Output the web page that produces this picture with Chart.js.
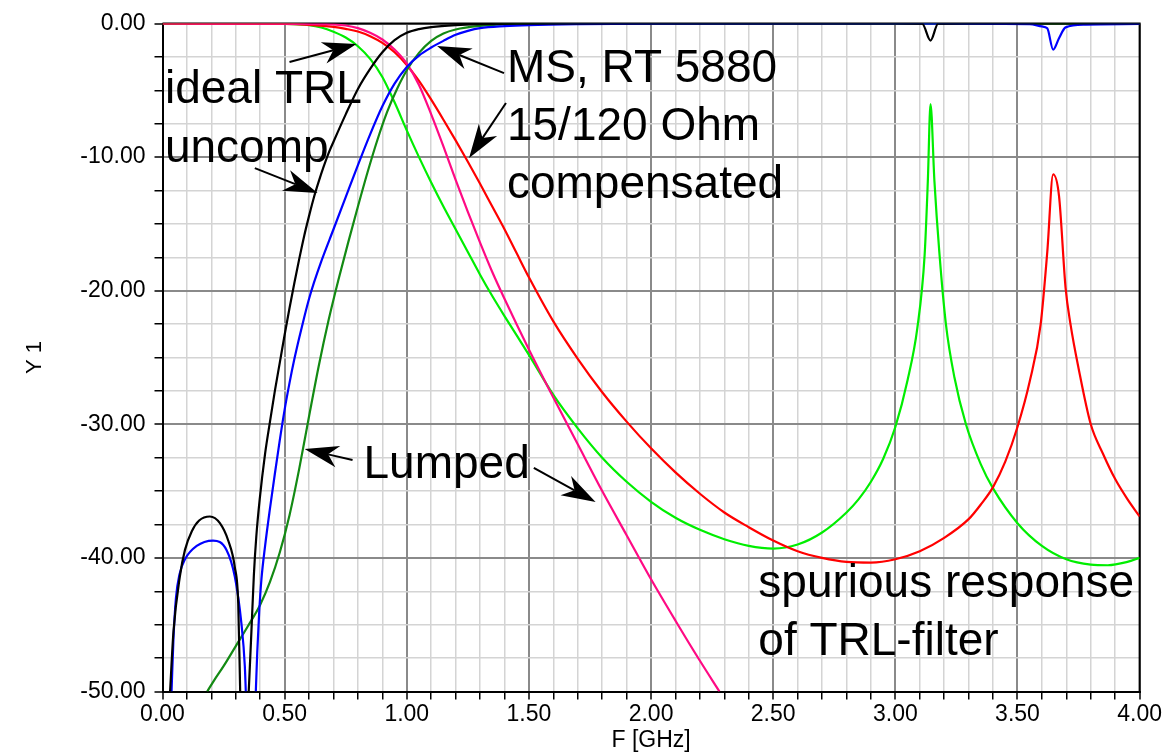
<!DOCTYPE html>
<html>
<head>
<meta charset="utf-8">
<script src="https://cdn.jsdelivr.net/npm/chart.js@4.4.1/dist/chart.umd.min.js"></script>
<style>
  html, body { margin: 0; padding: 0; background: #fff; }
  #wrap { width: 1163px; height: 754px; }
</style>
</head>
<body>
<div id="wrap"><canvas id="chart" width="1163" height="754"></canvas></div>
<script>
// tick labels
const xTickLabels = ['0.00', '0.50', '1.00', '1.50', '2.00', '2.50', '3.00', '3.50', '4.00'];
const yTickLabels = ['0.00', '-10.00', '-20.00', '-30.00', '-40.00', '-50.00'];

// ideal TRL, uncompensated
const trlS11F = [0.031, 0.045, 0.071, 0.092, 0.12, 0.15, 0.194, 0.235, 0.269, 0.296, 0.31, 0.318, 0.335, 0.353, 0.364, 0.374, 0.384, 0.398, 0.42, 0.44, 0.46, 0.48, 0.5, 0.52, 0.54, 0.56, 0.58, 0.6, 0.62, 0.64, 0.66, 0.68, 0.7, 0.75, 0.8, 0.85, 0.9, 0.95, 1.0, 1.05, 1.1, 1.2, 1.3, 1.45, 2.0, 3.0, 3.11, 3.144, 3.175, 3.3, 4.0];
const trlS11 = [-50, -45.5, -41.4, -39.4, -38.0, -37.2, -36.9, -37.4, -38.7, -40.7, -43.4, -50, null, -50, -45.5, -41.3, -38.4, -35.6, -32.2, -29.8, -27.5, -25.4, -23.3, -21.3, -19.4, -17.6, -15.9, -14.4, -13.0, -11.8, -10.7, -9.7, -8.85, -6.8, -4.9, -3.4, -2.15, -1.25, -0.7, -0.42, -0.27, -0.12, -0.05, -0.01, 0, 0, -0.02, -1.28, -0.02, 0, 0];
const trlS21F = [0, 0.3, 0.5, 0.6, 0.65, 0.7, 0.75, 0.8, 0.85, 0.9, 0.95, 1.0, 1.05, 1.1, 1.15, 1.2, 1.25, 1.3, 1.35, 1.4, 1.5, 1.6, 1.7, 1.8, 1.9, 2.0, 2.1, 2.2, 2.3, 2.4, 2.5, 2.6, 2.7, 2.8, 2.85, 2.9, 2.95, 3.0, 3.05, 3.09, 3.12, 3.133, 3.144, 3.16, 3.18, 3.207, 3.242, 3.289, 3.35, 3.4, 3.5, 3.6, 3.7, 3.8, 3.87, 3.95, 4.0];
const trlS21 = [0, -0.01, -0.03, -0.12, -0.3, -0.62, -1.05, -1.7, -2.65, -4.0, -5.9, -8.0, -10.0, -11.9, -13.7, -15.4, -17.1, -18.8, -20.4, -21.9, -24.8, -27.8, -30.3, -32.5, -34.3, -35.8, -37.0, -37.9, -38.6, -39.1, -39.3, -39.0, -38.1, -36.6, -35.6, -34.3, -32.6, -30.2, -26.7, -22.8, -17.3, -11.8, -6.04, -11.8, -17.1, -22.5, -26.5, -30.0, -33.0, -34.8, -37.4, -39.1, -40.1, -40.5, -40.55, -40.3, -40.0];

// microstrip RT 5880, 15/120 Ohm, compensated
const msS11F = [0.037, 0.045, 0.055, 0.07, 0.092, 0.14, 0.207, 0.262, 0.296, 0.323, 0.337, 0.341, 0.36, 0.382, 0.388, 0.396, 0.405, 0.42, 0.44, 0.46, 0.48, 0.5, 0.52, 0.54, 0.56, 0.58, 0.6, 0.62, 0.65, 0.7, 0.75, 0.8, 0.85, 0.9, 0.95, 1.0, 1.05, 1.1, 1.15, 1.2, 1.25, 1.3, 1.4, 1.5, 1.7, 2.0, 3.0, 3.55, 3.6, 3.622, 3.646, 3.67, 3.697, 3.78, 4.0];
const msS11 = [-50, -46, -43, -41.2, -40.1, -39.1, -38.7, -39.4, -41.4, -44.9, -48.1, -50, null, -50, -47, -44.0, -41.6, -39.1, -36.3, -33.7, -31.2, -28.9, -26.9, -25.1, -23.5, -22.0, -20.6, -19.4, -17.8, -15.4, -13.0, -10.6, -8.3, -6.2, -4.5, -3.25, -2.4, -1.8, -1.3, -0.85, -0.55, -0.35, -0.2, -0.12, -0.05, -0.01, 0, -0.05, -0.22, -0.36, -1.95, -1.1, -0.29, -0.08, -0.03];
const msS21F = [0, 0.5, 0.6, 0.7, 0.75, 0.8, 0.85, 0.9, 0.95, 1.0, 1.05, 1.1, 1.15, 1.2, 1.25, 1.3, 1.35, 1.4, 1.45, 1.5, 1.6, 1.7, 1.8, 1.9, 2.0, 2.1, 2.2, 2.3, 2.4, 2.5, 2.6, 2.7, 2.8, 2.9, 3.0, 3.1, 3.2, 3.3, 3.35, 3.4, 3.45, 3.5, 3.55, 3.595, 3.622, 3.646, 3.67, 3.697, 3.717, 3.75, 3.8, 3.85, 3.9, 3.95, 4.0];
const msS21 = [0, -0.03, -0.1, -0.25, -0.4, -0.6, -0.95, -1.45, -2.15, -3.1, -4.3, -5.7, -7.2, -8.75, -10.35, -12.0, -13.7, -15.4, -17.2, -19.0, -22.3, -25.1, -27.6, -29.8, -31.8, -33.6, -35.2, -36.6, -37.7, -38.7, -39.5, -40.0, -40.3, -40.35, -40.1, -39.5, -38.5, -37.1, -36.0, -34.7, -32.8, -30.2, -26.8, -22.5, -17.1, -11.3, -12.9, -19.8, -22.5, -25.8, -30.0, -32.2, -34.1, -35.6, -36.9];

// lumped element filter
const lumpS11F = [0.183, 0.21, 0.25, 0.3, 0.35, 0.4, 0.44, 0.48, 0.52, 0.56, 0.6, 0.64, 0.68, 0.72, 0.76, 0.8, 0.84, 0.88, 0.92, 0.96, 1.0, 1.05, 1.1, 1.15, 1.2, 1.3, 1.4, 1.6, 2.0, 4.0];
const lumpS11 = [-50, -49.2, -48.1, -46.6, -45.1, -43.5, -41.8, -39.6, -36.8, -33.3, -29.4, -25.6, -22.2, -19.2, -16.4, -13.7, -11.1, -8.7, -6.6, -4.9, -3.5, -2.2, -1.3, -0.75, -0.45, -0.18, -0.07, -0.02, 0, 0];
const lumpS21F = [0, 0.5, 0.7, 0.75, 0.8, 0.85, 0.9, 0.95, 1.0, 1.05, 1.1, 1.15, 1.2, 1.25, 1.3, 1.35, 1.4, 1.5, 1.6, 1.7, 1.8, 1.9, 2.0, 2.1, 2.2, 2.28];
const lumpS21 = [0, -0.02, -0.06, -0.15, -0.35, -0.7, -1.2, -1.95, -3.0, -4.6, -6.8, -9.2, -11.7, -14.1, -16.4, -18.6, -20.6, -24.4, -28.0, -31.5, -35.0, -38.3, -41.6, -44.7, -47.7, -50];

// annotations (text lines and arrows, in GHz / dB)
const noteLines = ['ideal TRL', 'uncomp', 'MS, RT 5880', '15/120 Ohm', 'compensated', 'Lumped', 'spurious response', 'of TRL-filter'];
const noteAt = [[0.01, -5.95], [0.01, -10.37], [1.41, -4.38], [1.41, -8.72], [1.41, -13.06], [0.823, -34.02], [2.439, -42.93], [2.439, -47.27]];
const arrowLines = [
    [0.520, -2.88, 0.794, -1.53],
    [0.378, -10.82, 0.635, -12.69],
    [1.398, -3.71, 1.124, -1.68],
    [1.406, -5.95, 1.255, -10.07],
    [0.778, -32.67, 0.582, -31.85],
    [1.520, -33.27, 1.773, -35.81]
];

const FONT = "'Liberation Sans', Arial, sans-serif";

function pts(xs, ys) {
    return xs.map((x, i) => ({ x: x, y: ys[i] }));
}

function series(label, xs, ys, color) {
    return {
        label: label,
        data: pts(xs, ys),
        borderColor: color,
        backgroundColor: color,
        borderWidth: 2.2,
        pointRadius: 0,
        fill: false,
        spanGaps: false,
        cubicInterpolationMode: 'monotone'
    };
}

function isMajor(v, step) {
    return Math.abs(v / step - Math.round(v / step)) < 1e-6;
}

const framePlugin = {
    id: 'frame',
    beforeDatasetsDraw(chart) {
        const a = chart.chartArea;
        const ctx = chart.ctx;
        ctx.save();
        ctx.strokeStyle = '#000';
        ctx.lineWidth = 2;
        ctx.beginPath();
        ctx.moveTo(a.left, a.top);
        ctx.lineTo(a.right, a.top);
        ctx.lineTo(a.right, a.bottom);
        ctx.stroke();
        ctx.restore();
    }
};

function drawArrow(ctx, x1, y1, x2, y2) {
    const ang = Math.atan2(y2 - y1, x2 - x1);
    const len = 34, half = 11, notch = 24;
    const c = Math.cos(ang), s = Math.sin(ang);
    const bx = x2 - c * notch, by = y2 - s * notch;
    ctx.beginPath();
    ctx.moveTo(x1, y1);
    ctx.lineTo(bx, by);
    ctx.stroke();
    ctx.beginPath();
    ctx.moveTo(x2, y2);
    ctx.lineTo(x2 - c * len - s * half, y2 - s * len + c * half);
    ctx.lineTo(bx, by);
    ctx.lineTo(x2 - c * len + s * half, y2 - s * len - c * half);
    ctx.closePath();
    ctx.fill();
}

const notesPlugin = {
    id: 'notes',
    afterDatasetsDraw(chart) {
        const ctx = chart.ctx;
        const xs = chart.scales.x, ys = chart.scales.y;
        ctx.save();
        ctx.fillStyle = '#000';
        ctx.strokeStyle = '#000';
        ctx.lineWidth = 2;
        ctx.font = '46px ' + FONT;
        ctx.textAlign = 'left';
        ctx.textBaseline = 'alphabetic';
        noteLines.forEach((t, i) => {
            ctx.fillText(t, xs.getPixelForValue(noteAt[i][0]), ys.getPixelForValue(noteAt[i][1]));
        });
        arrowLines.forEach(a => {
            drawArrow(ctx,
                xs.getPixelForValue(a[0]), ys.getPixelForValue(a[1]),
                xs.getPixelForValue(a[2]), ys.getPixelForValue(a[3]));
        });
        ctx.restore();
    }
};

new Chart(document.getElementById('chart'), {
    type: 'line',
    data: {
        datasets: [
            series('TRL S11', trlS11F, trlS11, '#000000'),
            series('MS S11', msS11F, msS11, '#0000ff'),
            series('Lumped S11', lumpS11F, lumpS11, '#138a13'),
            series('Lumped S21', lumpS21F, lumpS21, '#ff0a84'),
            series('MS S21', msS21F, msS21, '#ff0000'),
            series('TRL S21', trlS21F, trlS21, '#00ee00')
        ]
    },
    options: {
        responsive: false,
        animation: false,
        devicePixelRatio: 1,
        layout: { padding: { top: 23.5, right: 20.5, bottom: 0, left: 0 } },
        plugins: {
            legend: { display: false },
            tooltip: { enabled: false }
        },
        scales: {
            x: {
                type: 'linear',
                min: 0,
                max: 4,
                afterFit(scale) { scale.height = 62.5; },
                ticks: {
                    stepSize: 0.1,
                    autoSkip: false,
                    maxRotation: 0,
                    padding: 1,
                    color: '#000',
                    font: { family: FONT, size: 23 },
                    callback: v => isMajor(v, 0.5) ? xTickLabels[Math.round(v / 0.5)] : ''
                },
                grid: {
                    color: c => (c.tick && isMajor(c.tick.value, 0.5)) ? '#8a8a8a' : '#d4d4d4',
                    lineWidth: c => (c.tick && isMajor(c.tick.value, 0.5)) ? 2 : 1.5,
                    tickColor: '#000',
                    tickWidth: 1.5,
                    tickLength: 8
                },
                border: { color: '#000', width: 2 },
                title: {
                    display: true,
                    text: 'F [GHz]',
                    color: '#000',
                    font: { family: FONT, size: 23 },
                    padding: { top: 0, bottom: 0 }
                }
            },
            y: {
                type: 'linear',
                min: -50,
                max: 0,
                afterFit(scale) { scale.width = 162.5; },
                ticks: {
                    stepSize: 2.5,
                    autoSkip: false,
                    padding: 9,
                    color: '#000',
                    font: { family: FONT, size: 23 },
                    callback: v => isMajor(v, 10) ? yTickLabels[Math.round(-v / 10)] : ''
                },
                grid: {
                    color: c => (c.tick && isMajor(c.tick.value, 10)) ? '#8a8a8a' : '#d4d4d4',
                    lineWidth: c => (c.tick && isMajor(c.tick.value, 10)) ? 2 : 1.5,
                    tickColor: '#000',
                    tickWidth: 1.5,
                    tickLength: 8
                },
                border: { color: '#000', width: 2 },
                title: {
                    display: true,
                    text: 'Y 1',
                    color: '#000',
                    font: { family: FONT, size: 22 },
                    padding: { top: 22, bottom: 0 }
                }
            }
        }
    },
    plugins: [framePlugin, notesPlugin]
});
</script>
</body>
</html>
